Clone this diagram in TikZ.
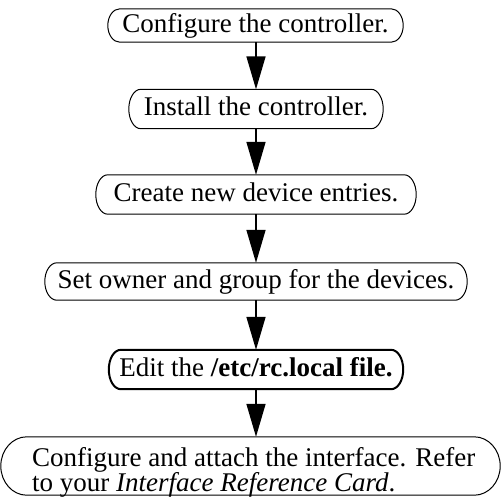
\documentclass[tikz,border=0pt]{standalone}
\usepackage{fontspec}
\setmainfont{Liberation Serif}
\usetikzlibrary{arrows.meta,calc}
\newcommand\pillshape[3][]{%
  \draw[pillline,#1] let \p1=(#2.north west), \p2=(#2.south east), \n1={(\y1-\y2)/2} in
    ({\x1+#3},\y1) -- ({\x2-#3},\y1)
    arc[start angle=90,end angle=-90,x radius=#3,y radius={\n1*1pt}]
    -- ({\x1+#3},\y2)
    arc[start angle=270,end angle=90,x radius=#3,y radius={\n1*1pt}] -- cycle;}
\tikzset{
  boxnode/.style={inner sep=0pt, font=\fontsize{27}{25}\selectfont,
    text height=19pt, text depth=6pt},
  pillline/.style={line width=1pt},
  flow/.style={line width=1.6pt, -{Triangle[length=33pt,width=19pt]}}
}
\begin{document}
\begin{tikzpicture}[x=1pt,y=1pt]
\useasboundingbox (0,0) rectangle (501,-496);
\node[boxnode, minimum width=295pt, minimum height=33pt] (b1) at (255.5,-25.5) {Configure the controller.};
\node[boxnode, minimum width=254pt, minimum height=39pt] (b2) at (256,-109) {Install the controller.};
\node[boxnode, minimum width=320pt, minimum height=39pt] (b3) at (256,-194.5) {Create new device entries.};
\node[boxnode, minimum width=422pt, minimum height=37pt] (b4) at (256,-281.5) {Set owner and group for the devices.};
\node[boxnode, minimum width=294pt, minimum height=39pt] (b5) at (256,-369.5) {Edit the \textbf{/etc/rc.local file.}};
\node[inner sep=0pt, minimum width=499pt, minimum height=58pt] (b6) at (250.5,-466) {};
\node[boxnode, anchor=base west, align=left] (t6) at (32,-491)
  {Configure and attach the interface. Refer\\to your \textit{Interface Reference Card}.};
\pillshape{b1}{12pt}
\pillshape{b2}{12pt}
\pillshape{b3}{12pt}
\pillshape{b4}{12pt}
\pillshape[line width=2pt]{b5}{12pt}
\pillshape{b6}{26pt}
\draw[flow] (b1.south -| 256,0) -- (b2.north);
\draw[flow] (b2.south) -- (b3.north);
\draw[flow] (b3.south) -- (b4.north);
\draw[flow] (b4.south) -- (b5.north);
\draw[flow] (b5.south) -- (b6.north -| 256,0);
\end{tikzpicture}
\end{document}
